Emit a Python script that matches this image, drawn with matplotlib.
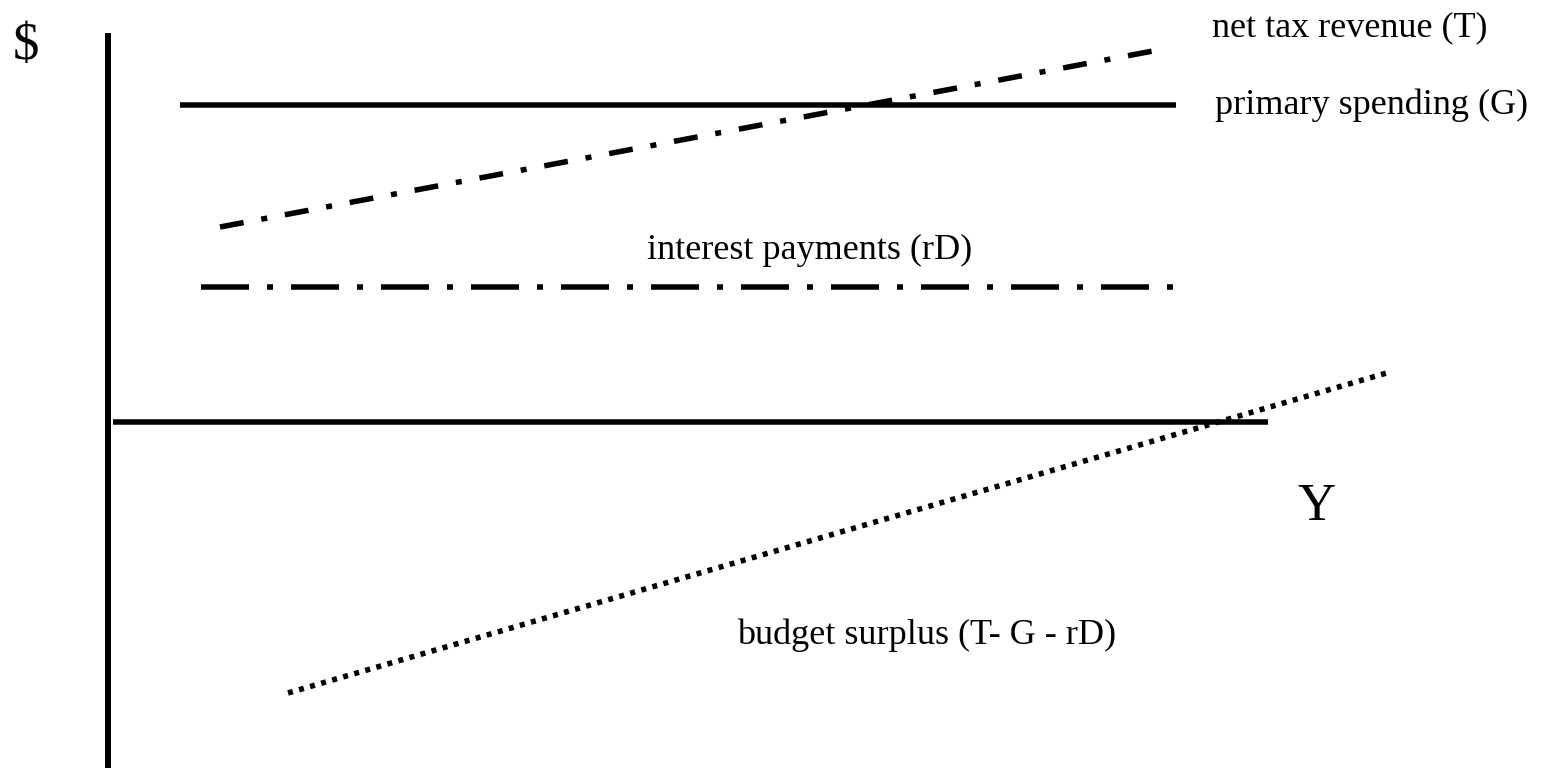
import matplotlib
matplotlib.use("Agg")
import matplotlib.pyplot as plt

plt.rcParams['font.family'] = ['Liberation Serif', 'DejaVu Serif']
plt.rcParams['lines.scale_dashes'] = False

# Diagram data (abstract units: income Y on x, dollars on y)
income_axis_x = [0.5, 116.0]
income_axis_y = [0.0, 0.0]
dollar_axis_x = [0.0, 0.0]
dollar_axis_y = [-35.0, 38.9]

spending_x = [7.2, 106.8]
spending_y = [31.7, 31.7]

tax_x = [11.2, 104.5]
tax_y = [19.5, 37.1]

interest_x = [9.3, 106.5]
interest_y = [13.5, 13.5]

surplus_x = [18.0, 128.2]
surplus_y = [-27.1, 5.0]

labels = {
    'tax': 'net tax revenue (T)',
    'spending': 'primary spending (G)',
    'interest': 'interest payments (rD)',
    'surplus': 'budget surplus (T- G - rD)',
    'xaxis': 'Y',
    'yaxis': '$',
}

fig = plt.figure(figsize=(15.45, 7.68), dpi=100)
ax = fig.add_axes([0, 0, 1, 1])
ax.set_xlim(-10.8, 143.7)
ax.set_ylim(-34.6, 42.2)
ax.axis('off')

px = 0.72  # points per pixel at 100 dpi
lw = 5.5 * px

ax.plot(dollar_axis_x, dollar_axis_y, color='black', lw=6 * px, solid_capstyle='butt')
ax.plot(income_axis_x, income_axis_y, color='black', lw=lw, solid_capstyle='butt')
ax.plot(spending_x, spending_y, color='black', lw=lw, solid_capstyle='butt')

ax.plot(tax_x, tax_y, color='black', lw=lw, dash_capstyle='butt',
        linestyle=(0, (24 * px, 18 * px, 6 * px, 18 * px)))
ax.plot(interest_x, interest_y, color='black', lw=lw, dash_capstyle='butt',
        linestyle=(0, (48 * px, 18 * px, 6 * px, 18 * px)))
ax.plot(surplus_x, surplus_y, color='black', lw=lw, dash_capstyle='butt',
        linestyle=(0, (5 * px, 6.5 * px)))

fs = 26
ax.text(110.4, 39.4, labels['tax'], fontsize=fs, ha='left', va='center')
ax.text(110.7, 31.7, labels['spending'], fontsize=fs, ha='left', va='center')
ax.text(70.2, 17.2, labels['interest'], fontsize=fs, ha='center', va='center')
ax.text(81.9, -21.3, labels['surplus'], fontsize=fs, ha='center', va='center')
ax.text(120.8, -8.5, labels['xaxis'], fontsize=38, ha='center', va='center')
ax.text(-8.2, 37.6, labels['yaxis'], fontsize=38, ha='center', va='center')

fig.savefig('out.png', dpi=100)
